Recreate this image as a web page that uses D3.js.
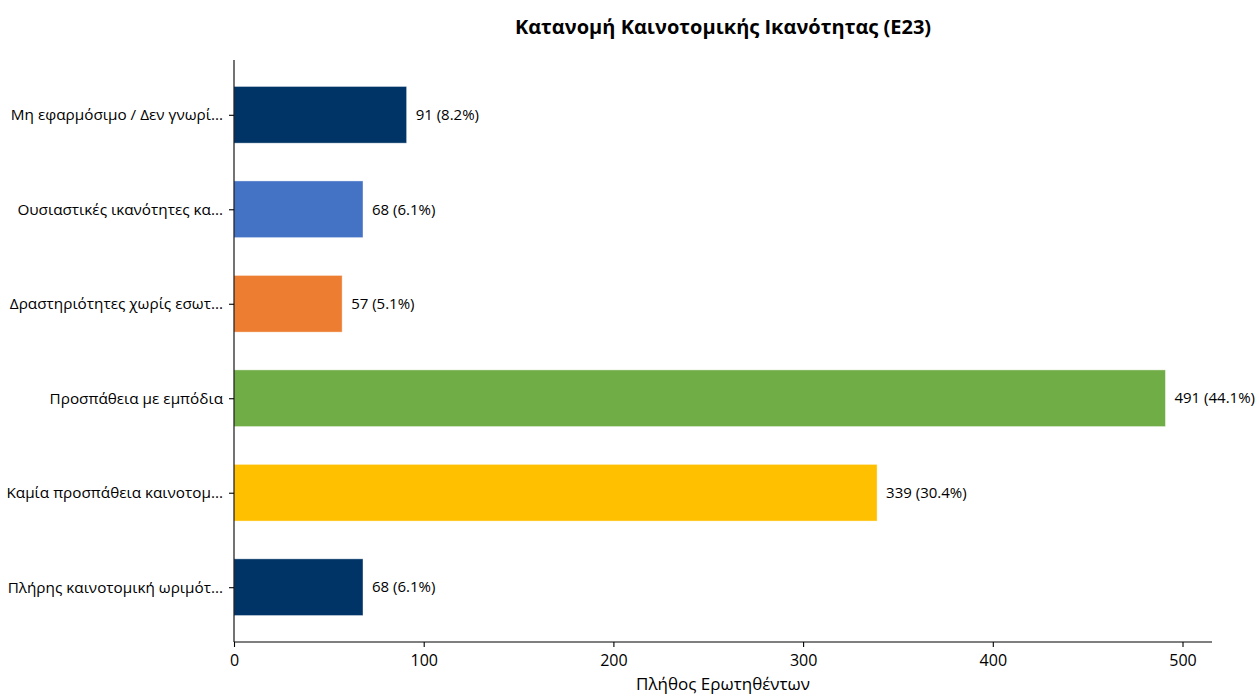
<!DOCTYPE html>
<html>
<head>
<meta charset="utf-8">
<script src="https://cdn.jsdelivr.net/npm/d3@7"></script>
<style>
  body { margin: 0; background: #fff; }
  svg { font-family: "Open Sans", "Noto Sans", sans-serif; }
</style>
</head>
<body>
<script>
// categories from top to bottom as drawn
const categories = [
  "Μη εφαρμόσιμο / Δεν γνωρί...",
  "Ουσιαστικές ικανότητες κα...",
  "Δραστηριότητες χωρίς εσωτ...",
  "Προσπάθεια με εμπόδια",
  "Καμία προσπάθεια καινοτομ...",
  "Πλήρης καινοτομική ωριμότ..."
];
const counts = [91, 68, 57, 491, 339, 68];
const percents = [8.2, 6.1, 5.1, 44.1, 30.4, 6.1];
const colors = ["#003366", "#4472C4", "#ED7D31", "#70AD47", "#FFC000", "#003366"];
const xTicks = [0, 100, 200, 300, 400, 500];

const W = 1259, H = 696;
const plotLeft = 234, plotRight = 1212, plotTop = 60, plotBottom = 642;

const svg = d3.select("body").append("svg")
    .attr("width", W)
    .attr("height", H);

const n = categories.length;
// index 0 at the top, matplotlib-like margins
const x = d3.scaleLinear()
    .domain([0, d3.max(counts) * 1.05])
    .range([plotLeft, plotRight]);
const y = d3.scaleLinear()
    .domain([-0.58, n - 1 + 0.58])
    .range([plotTop, plotBottom]);
const barH = (y(1) - y(0)) * 0.6;

svg.append("text")
    .attr("x", (plotLeft + plotRight) / 2)
    .attr("y", 34)
    .attr("text-anchor", "middle")
    .attr("font-size", 20)
    .attr("font-weight", "bold")
    .attr("fill", "#000")
    .text("Κατανομή Καινοτομικής Ικανότητας (E23)");

svg.selectAll(".bar")
    .data(counts)
    .enter()
    .append("rect")
        .attr("class", "bar")
        .attr("x", x(0))
        .attr("y", (d, i) => y(i) - barH / 2)
        .attr("width", d => x(d) - x(0))
        .attr("height", barH)
        .attr("fill", (d, i) => colors[i])
        .attr("stroke", "#fff")
        .attr("stroke-opacity", 0.5)
        .attr("stroke-width", 0.8);

svg.selectAll(".val")
    .data(counts)
    .enter()
    .append("text")
        .attr("class", "val")
        .attr("x", d => x(d) + 9)
        .attr("y", (d, i) => y(i))
        .attr("dy", "0.35em")
        .attr("font-size", 15)
        .attr("fill", "#000")
        .text((d, i) => `${d} (${percents[i]}%)`);

// y axis
const yAxis = svg.append("g")
    .attr("transform", `translate(${plotLeft},0)`)
    .call(d3.axisLeft(y)
        .tickValues(d3.range(n))
        .tickFormat(i => categories[i])
        .tickSize(5)
        .tickPadding(6));
yAxis.select(".domain").attr("d", `M0,${plotTop}V${plotBottom}`);
yAxis.selectAll(".tick text").attr("font-size", 15.3);

// x axis
const xAxis = svg.append("g")
    .attr("transform", `translate(0,${plotBottom})`)
    .call(d3.axisBottom(x)
        .tickValues(xTicks)
        .tickSize(5)
        .tickPadding(8));
xAxis.select(".domain").attr("d", `M${plotLeft},0H${plotRight}`);
xAxis.selectAll(".tick text").attr("font-size", 16);

svg.selectAll(".tick text")
    .attr("font-family", "\"Open Sans\", \"Noto Sans\", sans-serif")
    .attr("fill", "#000");
svg.selectAll(".domain, .tick line")
    .attr("stroke", "#000")
    .attr("stroke-width", 1.1);

svg.append("text")
    .attr("x", (plotLeft + plotRight) / 2)
    .attr("y", 690)
    .attr("text-anchor", "middle")
    .attr("font-size", 17)
    .attr("fill", "#000")
    .text("Πλήθος Ερωτηθέντων");
</script>
</body>
</html>
